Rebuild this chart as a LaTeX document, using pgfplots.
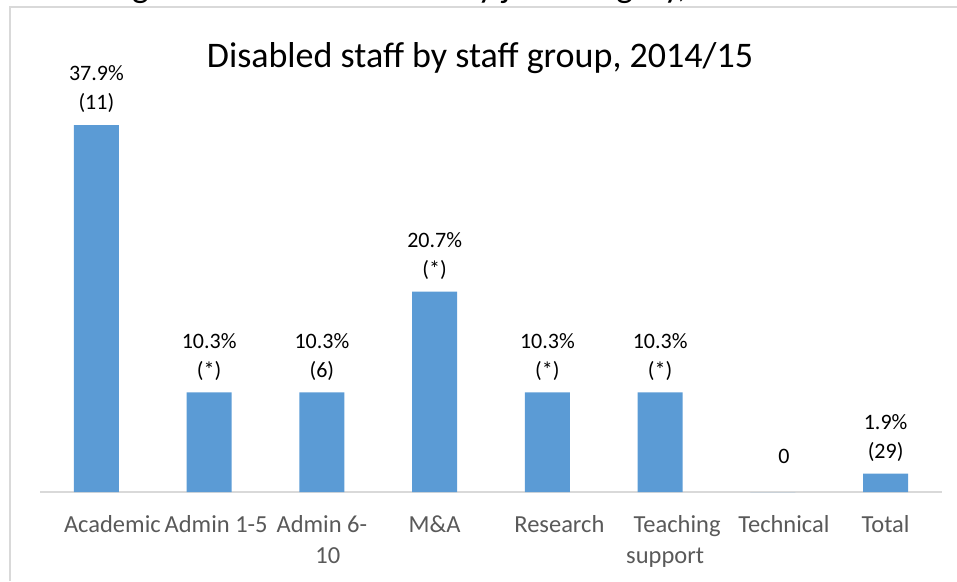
\documentclass[border=0pt]{standalone}
\usepackage{fontspec}
\setmainfont{Carlito}
\usepackage{pgfplots}
\pgfplotsset{compat=1.18}
\definecolor{barblue}{HTML}{5B9BD5}
\definecolor{axisgray}{HTML}{D9D9D9}
\definecolor{labelgray}{HTML}{595959}
\definecolor{framegray}{HTML}{D9D9D9}
\begin{document}
\begin{tikzpicture}[x=1pt,y=1pt]
\begin{axis}[
  at={(40pt,89pt)}, anchor=south west,
  scale only axis, width=902pt, height=435.6pt,
  xmin=-0.5, xmax=7.5, ymin=0, ymax=45,
  axis x line=bottom, hide y axis,
  x axis line style={axisgray, line width=2pt, -},
  xtick={0,...,7}, xtick style={draw=none},
  % Excel sets some category names off centre; the \hspace* pads copy that
  xticklabels={\hspace*{32pt}Academic,\hspace*{14pt}Admin 1-5,{Admin 6-\\\hspace*{12pt}10},M\&A,\hspace*{24pt}Research,{\hspace*{34pt}Teaching\\\hspace*{10pt}support},\hspace*{22pt}Technical,Total},
  xticklabel style={align=center, font=\fontsize{24.5}{31}\selectfont, text=labelgray, anchor=north, inner sep=0pt, yshift=-19pt},
  ybar, bar width=45pt, bar shift=0pt,
  nodes near coords, point meta=explicit symbolic,
  every node near coord/.append style={align=center, font=\fontsize{22}{29}\selectfont, text=black, anchor=south, inner sep=0pt, yshift=12pt},
  clip=false,
]
\addplot[fill=barblue, draw=none] coordinates {
  (0,37.9) [{37.9\%\\(11)}]
  (1,10.3) [{10.3\%\\(*)}]
  (2,10.3) [{10.3\%\\(6)}]
  (3,20.7) [{20.7\%\\(*)}]
  (4,10.3) [{10.3\%\\(*)}]
  (5,10.3) [{10.3\%\\(*)}]
  (7,1.9)  [{1.9\%\\(29)}]
};
\addplot[fill=barblue, draw=none, every node near coord/.append style={yshift=16pt, xshift=11pt}] coordinates {
  (6,0) [0]
};
\end{axis}
\draw[framegray, line width=1.5pt] (10,0) -- (10,574) -- (957,574);
\node[anchor=base, font=\fontsize{35.5}{42}\selectfont] at (462,583.5) {Figure 6 – Disabled staff by job category, 2014/15};
\node[anchor=base, font=\fontsize{36}{42}\selectfont] at (480,513) {Disabled staff by staff group, 2014/15};
\pgfresetboundingbox
\useasboundingbox (0,0) rectangle (957,581);
\end{tikzpicture}
\end{document}
